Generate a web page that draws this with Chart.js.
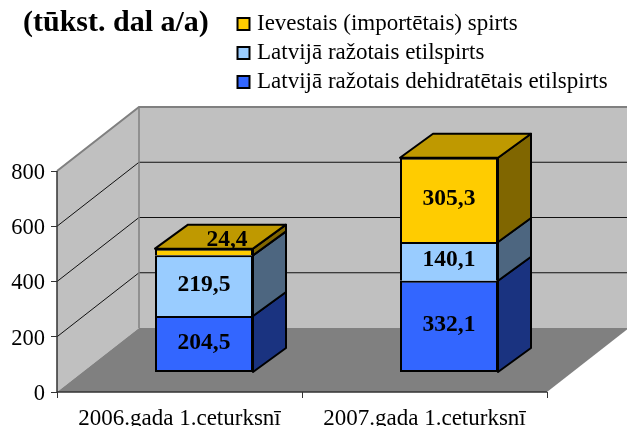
<!DOCTYPE html>
<html><head><meta charset="utf-8">
<style>html,body{margin:0;padding:0;background:#fff}#w{width:627px;height:426px;position:relative}</style>
<script src="https://cdn.jsdelivr.net/npm/chart.js@4/dist/chart.umd.min.js"></script>
</head><body><div id="w"><canvas id="c" width="627" height="426"></canvas></div>
<script>
const categories = ['2006.gada 1.ceturksnī', '2007.gada 1.ceturksnī'];
const dehydrated = [204.5, 332.1];
const domestic = [219.5, 140.1];
const imported = [24.4, 305.3];
const yTicks = [0, 200, 400, 600, 800];
const titleText = '(tūkst. dal a/a)';
const seriesNames = ['Latvijā ražotais dehidratētais etilspirts', 'Latvijā ražotais etilspirts', 'Ievestais (importētais) spirts'];

const FONT = '"Liberation Serif","Times New Roman",serif';
const DEPTH = {x: 82, y: -64};
const SHIFT = {x: 24.5, y: -19.5};
const BAR_D = {x: 33, y: -24};
const faces = [
  {side: '#1A3380', top: '#3366FF'},
  {side: '#4D6680', top: '#99CCFF'},
  {side: '#806600', top: '#BF9900'}
];
function poly(ctx, pts, fill, stroke, lw) {
  ctx.beginPath();
  pts.forEach((p, i) => i ? ctx.lineTo(p[0], p[1]) : ctx.moveTo(p[0], p[1]));
  ctx.closePath();
  if (fill) { ctx.fillStyle = fill; ctx.fill(); }
  if (stroke) { ctx.strokeStyle = stroke; ctx.lineWidth = lw; ctx.stroke(); }
}
const box3d = {
  id: 'box3d',
  afterLayout(chart) {
    const l = chart.legend, t = chart.titleBlock;
    l.left = 235.5; l.right = 620; l.top = 6.5; l.bottom = 104;
    t.left = 23; t.right = 300; const th = t.bottom - t.top; t.top = 5.5; t.bottom = 5.5 + th;
  },
  beforeDatasetsDraw(chart) {
    const {ctx, chartArea: a, scales: {y}} = chart;
    const r = a.right, l = a.left, b = a.bottom, topY = y.getPixelForValue(800);
    poly(ctx, [[l, b], [l + DEPTH.x, b + DEPTH.y], [l + DEPTH.x, topY + DEPTH.y], [l, topY]], '#C0C0C0');
    poly(ctx, [[l + DEPTH.x, b + DEPTH.y], [r + DEPTH.x, b + DEPTH.y], [r + DEPTH.x, topY + DEPTH.y], [l + DEPTH.x, topY + DEPTH.y]], '#C0C0C0');
    poly(ctx, [[l, b], [l + DEPTH.x, b + DEPTH.y], [r + DEPTH.x, b + DEPTH.y], [r, b]], '#808080');
    yTicks.forEach(v => {
      const py = y.getPixelForValue(v);
      if (v === 0) return;
      ctx.strokeStyle = v === 800 ? '#808080' : '#111';
      ctx.lineWidth = v === 800 ? 2 : 1;
      ctx.beginPath();
      ctx.moveTo(l, py); ctx.lineTo(l + DEPTH.x, py + DEPTH.y); ctx.lineTo(r + DEPTH.x, py + DEPTH.y);
      ctx.stroke();
    });
    ctx.strokeStyle = '#808080'; ctx.lineWidth = 1.5;
    ctx.beginPath(); ctx.moveTo(l + DEPTH.x, topY + DEPTH.y); ctx.lineTo(l + DEPTH.x, b + DEPTH.y); ctx.stroke();
    ctx.strokeStyle = '#333'; ctx.lineWidth = 1.5;
    ctx.beginPath(); ctx.moveTo(l, topY); ctx.lineTo(l, b); ctx.lineTo(r, b); ctx.stroke();

    // bar depth faces, behind the library's own front faces
    ctx.save();
    ctx.translate(SHIFT.x, SHIFT.y);
    ctx.lineJoin = 'round';
    const n = chart.data.datasets.length;
    chart.data.labels.forEach((_, i) => {
      for (let d = 0; d < n; d++) {
        const bar = chart.getDatasetMeta(d).data[i];
        const p = bar.getProps(['x', 'y', 'base', 'width'], true);
        const R = p.x + p.width / 2, L = p.x - p.width / 2;
        poly(ctx, [[R, p.base], [R + BAR_D.x, p.base + BAR_D.y], [R + BAR_D.x, p.y + BAR_D.y], [R, p.y]], faces[d].side, '#000', 2);
        if (d === n - 1) poly(ctx, [[L, p.y], [L + BAR_D.x, p.y + BAR_D.y], [R + BAR_D.x, p.y + BAR_D.y], [R, p.y]], faces[d].top, '#000', 2);
      }
    });
    ctx.restore();
    ctx.save();
    ctx.translate(SHIFT.x, SHIFT.y);
  },
  afterDatasetsDraw(chart) {
    const {ctx} = chart;
    ctx.fillStyle = '#000';
    ctx.font = 'bold 23.5px ' + FONT;
    ctx.textAlign = 'center';
    ctx.textBaseline = 'middle';
    chart.data.datasets.forEach((ds, d) => {
      chart.getDatasetMeta(d).data.forEach((bar, i) => {
        const p = bar.getProps(['x', 'y', 'base'], true);
        const h = p.base - p.y;
        const txt = String(ds.data[i]).replace('.', ',');
        if (h < 20) ctx.fillText(txt, p.x + 23, p.y - 9);
        else ctx.fillText(txt, p.x, (p.y + p.base) / 2 - 1);
      });
    });
    ctx.restore();
  }
};
const mk = (label, data, bg, bottom) => ({label, data, backgroundColor: bg, borderColor: '#000',
  borderWidth: {top: 2, left: 2, right: 2, bottom}, borderSkipped: false, stack: 's'});
const chart = new Chart(document.getElementById('c'), {
  type: 'bar',
  data: {labels: categories, datasets: [
    mk(seriesNames[0], dehydrated, '#3366FF', 2),
    mk(seriesNames[1], domestic, '#99CCFF', 0),
    mk(seriesNames[2], imported, '#FFCC00', 0)
  ]},
  plugins: [box3d],
  options: {
    responsive: false, animation: false,
    layout: {padding: {left: 0, right: 80, top: 0, bottom: 0}},
    datasets: {bar: {barPercentage: 0.4, categoryPercentage: 1}},
    scales: {
      x: {stacked: true, afterFit(s) { s.height = 34; },
          grid: {display: true, drawOnChartArea: false, drawTicks: true, tickLength: 6, color: '#333', offset: true},
          border: {display: false},
          ticks: {color: '#000', font: {family: FONT, size: 23}, padding: 7, maxRotation: 0}},
      y: {stacked: true, min: 0, max: 800,
          afterFit(s) { s.width = 57; },
          afterBuildTicks(s) { s.ticks = yTicks.map(value => ({value})); },
          grid: {display: true, drawOnChartArea: false, drawTicks: true, tickLength: 6, color: '#333'},
          border: {display: false},
          ticks: {color: '#000', font: {family: FONT, size: 22.5}, padding: 6, labelOffset: 2}}
    },
    plugins: {
      tooltip: {enabled: false},
      title: {display: true, text: titleText, align: 'start', color: '#000', font: {family: FONT, size: 30, weight: 'bold'}, padding: 0},
      legend: {display: true, position: 'top', align: 'start', reverse: true,
        labels: {color: '#000', usePointStyle: true, pointStyle: 'rect', boxWidth: 4, boxHeight: 12, padding: 6, font: {family: FONT, size: 23},
          generateLabels(c) {
            return Chart.defaults.plugins.legend.labels.generateLabels(c).map(it => Object.assign(it, {lineWidth: 2, pointStyle: 'rect'}));
          }}}
    }
  }
});
const delta = chart.chartArea.top - 171;
chart.options.layout.padding.top -= delta;
chart.update();
const d2 = chart.chartArea.bottom - 392;
chart.options.layout.padding.bottom += d2;
chart.update();
</script></body></html>
